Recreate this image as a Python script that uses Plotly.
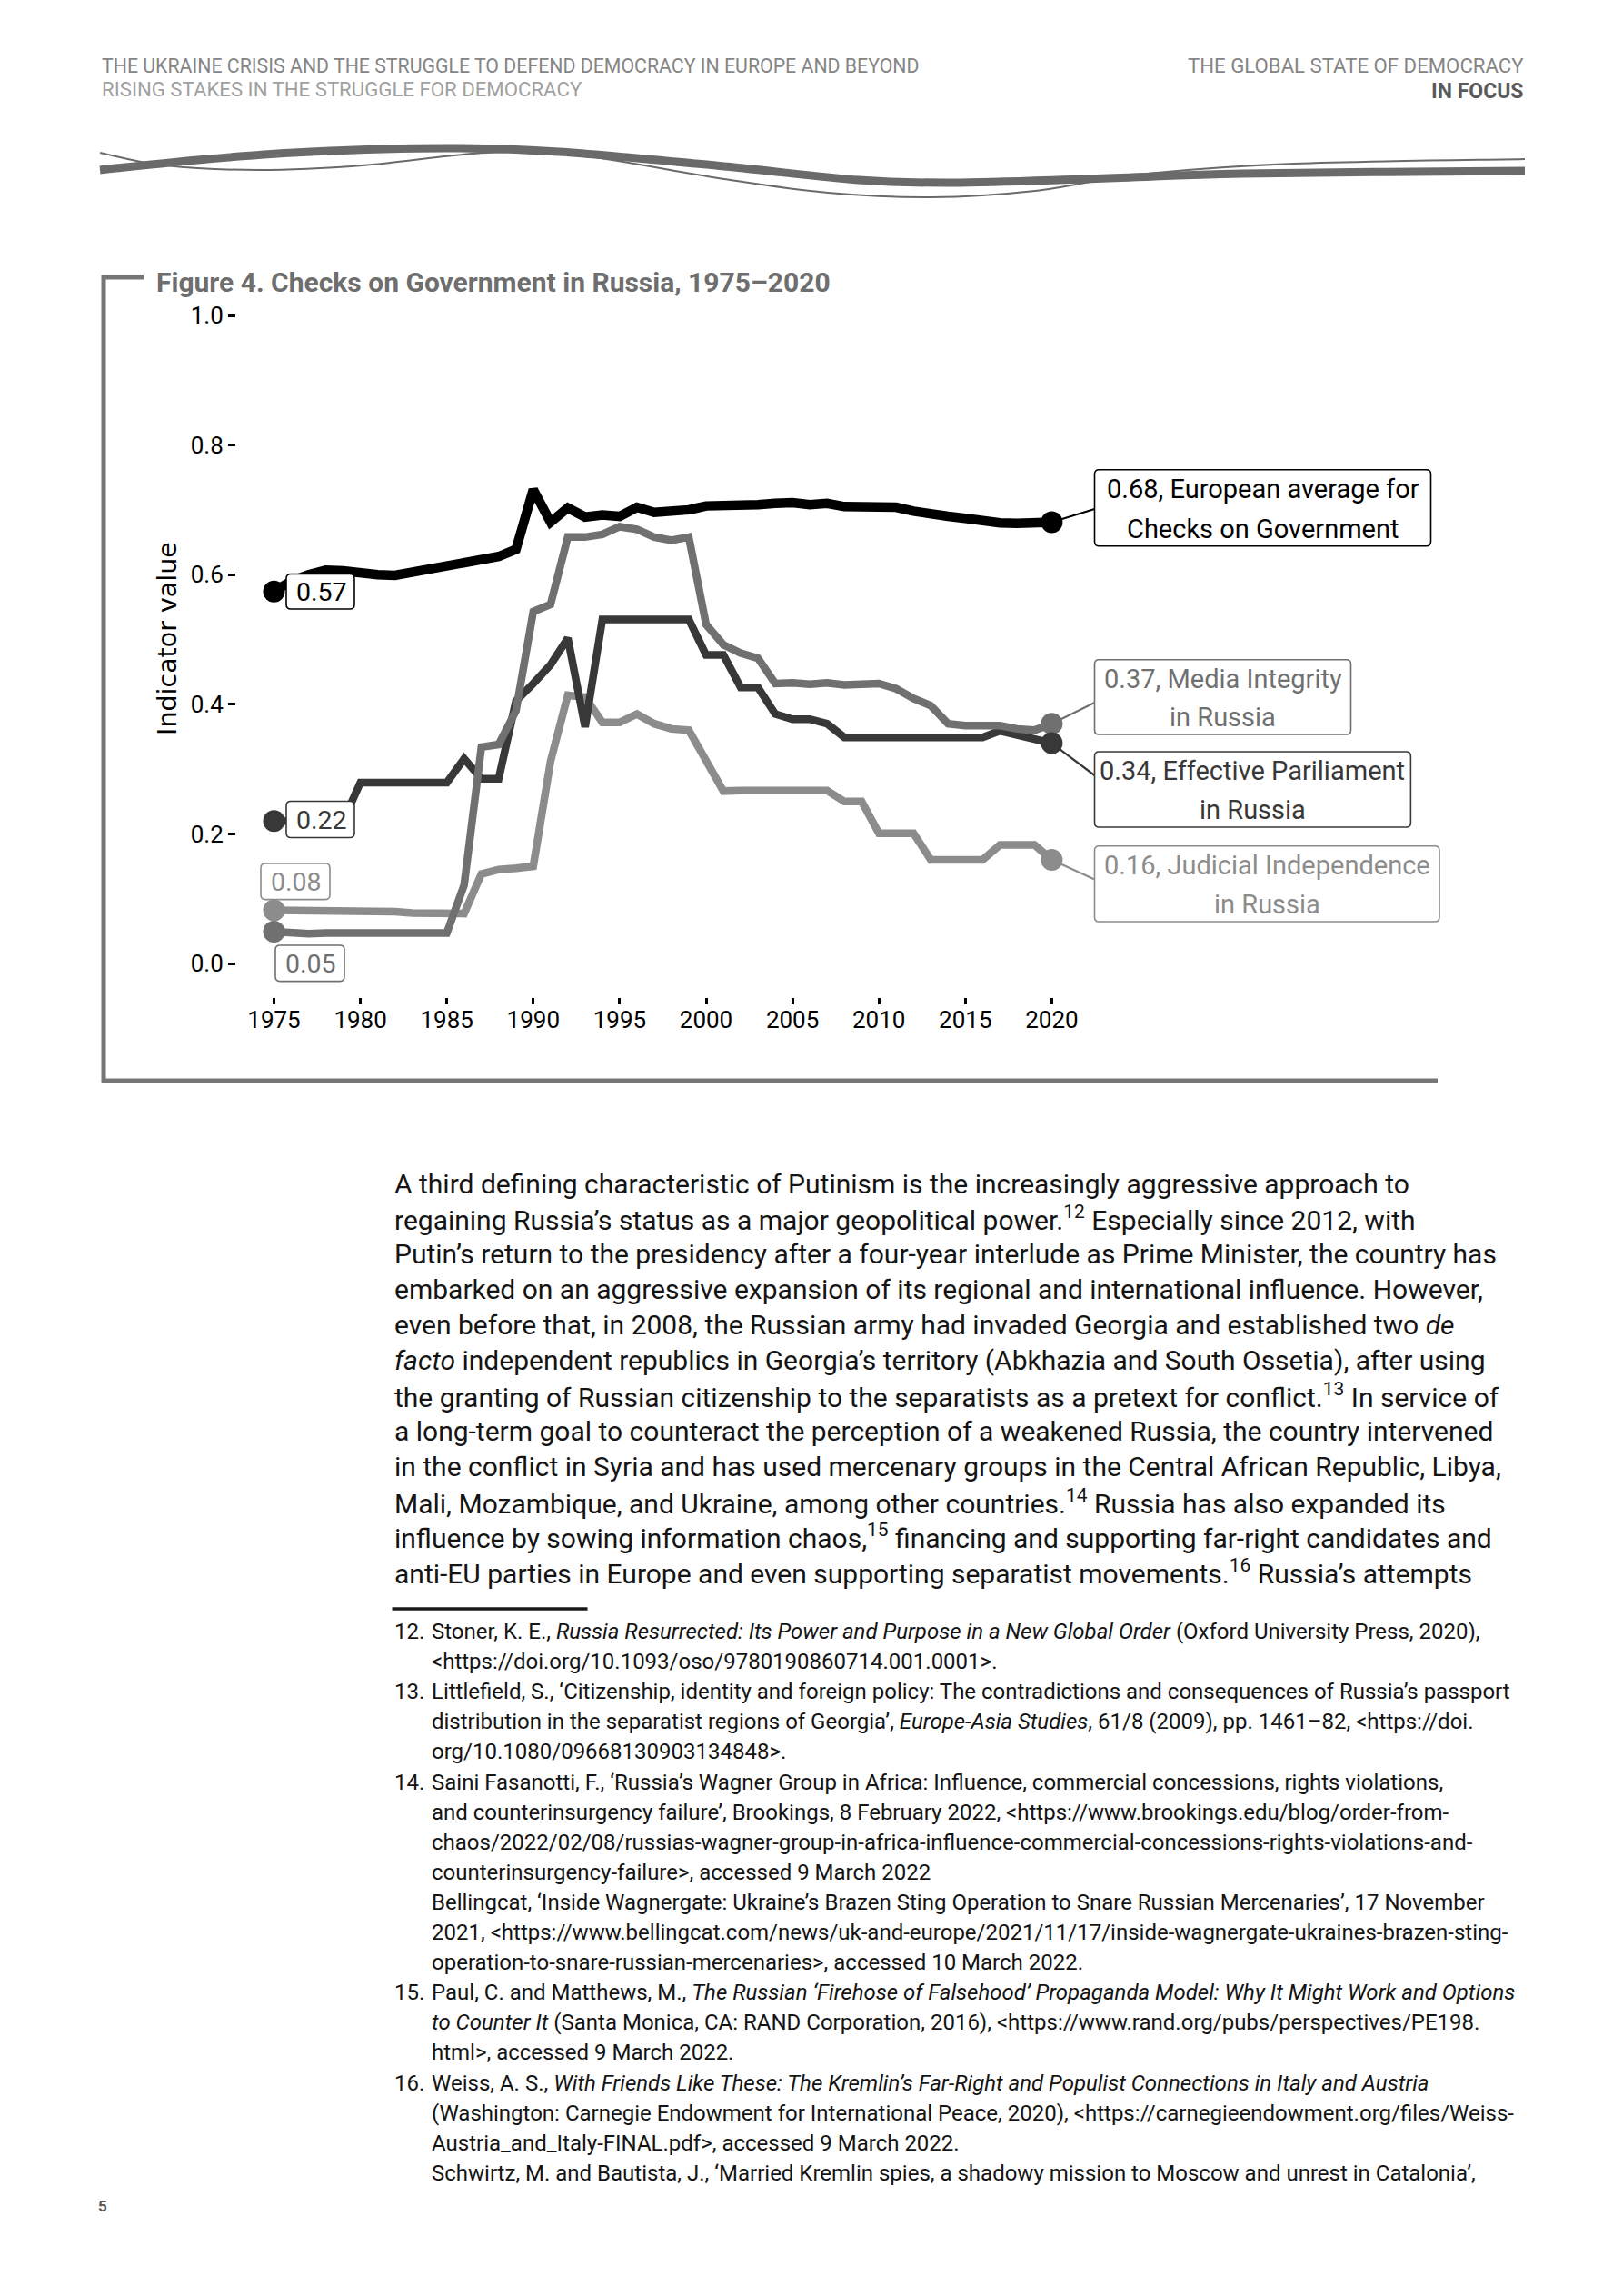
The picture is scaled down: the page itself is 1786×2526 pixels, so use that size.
import plotly.graph_objects as go

W, H = 1786, 2526
OFF = 8                      # browser body margin of the written page
WF, HF = W - OFF, H - OFF    # figure size so the page fills the window exactly


def px(x):
    return (x - OFF) / WF


def py(y):
    return 1 - (y - OFF) / HF


# ---------------- data ----------------
years = list(range(1975, 2021))

europe = [0.574, 0.590, 0.600, 0.607, 0.606, 0.602, 0.600, 0.599, 0.604, 0.611,
          0.614, 0.619, 0.623, 0.628, 0.639, 0.731, 0.681, 0.703, 0.689, 0.692,
          0.690, 0.704, 0.696, 0.697, 0.700, 0.706, 0.706, 0.707, 0.708, 0.710,
          0.711, 0.708, 0.710, 0.705, 0.705, 0.705, 0.704, 0.698, 0.693, 0.690,
          0.687, 0.683, 0.680, 0.679, 0.681, 0.681]

parliament = [0.220, 0.220, 0.220, 0.220, 0.220, 0.279, 0.279, 0.279, 0.279, 0.279,
              0.279, 0.316, 0.285, 0.285, 0.405, 0.432, 0.461, 0.502, 0.365, 0.531,
              0.531, 0.531, 0.531, 0.531, 0.531, 0.476, 0.476, 0.426, 0.426, 0.385,
              0.377, 0.377, 0.370, 0.349, 0.349, 0.349, 0.349, 0.349, 0.349, 0.349,
              0.349, 0.349, 0.359, 0.353, 0.347, 0.340]

media = [0.049, 0.047, 0.046, 0.047, 0.047, 0.047, 0.047, 0.046, 0.046, 0.046,
         0.047, 0.121, 0.334, 0.338, 0.390, 0.543, 0.554, 0.658, 0.658, 0.662,
         0.674, 0.670, 0.658, 0.653, 0.658, 0.523, 0.492, 0.479, 0.471, 0.432,
         0.433, 0.431, 0.433, 0.430, 0.430, 0.432, 0.424, 0.409, 0.398, 0.370,
         0.367, 0.366, 0.367, 0.362, 0.360, 0.370]

judicial = [0.082, 0.082, 0.082, 0.082, 0.082, 0.082, 0.081, 0.080, 0.078, 0.077,
            0.077, 0.077, 0.138, 0.145, 0.147, 0.150, 0.312, 0.414, 0.411, 0.372,
            0.372, 0.385, 0.370, 0.362, 0.360, 0.315, 0.266, 0.267, 0.267, 0.267,
            0.267, 0.267, 0.267, 0.250, 0.250, 0.201, 0.201, 0.201, 0.160, 0.160,
            0.160, 0.160, 0.183, 0.183, 0.183, 0.160]

x_ticks = [1975, 1980, 1985, 1990, 1995, 2000, 2005, 2010, 2015, 2020]
y_ticks = [0.0, 0.2, 0.4, 0.6, 0.8, 1.0]
y_tick_text = ["0.0", "0.2", "0.4", "0.6", "0.8", "1.0"]

series_names = {
    "europe": "European average for<br>Checks on Government",
    "parliament": "Effective Pariliament<br>in Russia",
    "media": "Media Integrity<br>in Russia",
    "judicial": "Judicial Independence<br>in Russia",
}

# ---------------- styles / layout constants ----------------
C_EU, C_PAR, C_MED, C_JUD = "#000000", "#383838", "#707070", "#8c8c8c"
FONT = "Roboto"

X0_PX, PX_PER_YEAR = 301.5, 19.02
Y0_PX, PX_PER_UNIT = 1060.0, 713.0
DOM_L, DOM_R, DOM_T, DOM_B = 260, 1600, 330, 1097
x_range = [1975 - (X0_PX - DOM_L) / PX_PER_YEAR, 1975 + (DOM_R - X0_PX) / PX_PER_YEAR]
y_range = [(Y0_PX - DOM_B) / PX_PER_UNIT, (Y0_PX - DOM_T) / PX_PER_UNIT]


def dx(xp):
    return 1975 + (xp - X0_PX) / PX_PER_YEAR


def dy(yp):
    return (Y0_PX - yp) / PX_PER_UNIT


fig = go.Figure()

series = [
    ("judicial", judicial, C_JUD, 8.5),
    ("parliament", parliament, C_PAR, 8.5),
    ("media", media, C_MED, 8.5),
    ("europe", europe, C_EU, 10.5),
]
for name, vals, col, w in series:
    fig.add_trace(go.Scatter(x=years, y=vals, mode="lines", name=name,
                             line=dict(color=col, width=w), hoverinfo="skip",
                             showlegend=False))
for name, vals, col, w in [series[0], series[2], series[1], series[3]]:
    fig.add_trace(go.Scatter(x=[years[0], years[-1]], y=[vals[0], vals[-1]],
                             mode="markers", marker=dict(color=col, size=24, line=dict(width=0)),
                             hoverinfo="skip", showlegend=False))

shapes = []
annotations = []


def rrect(x0, y0, x1, y1, r=5):
    return (f"M {px(x0 + r)},{py(y0)} L {px(x1 - r)},{py(y0)} "
            f"Q {px(x1)},{py(y0)} {px(x1)},{py(y0 + r)} L {px(x1)},{py(y1 - r)} "
            f"Q {px(x1)},{py(y1)} {px(x1 - r)},{py(y1)} L {px(x0 + r)},{py(y1)} "
            f"Q {px(x0)},{py(y1)} {px(x0)},{py(y1 - r)} L {px(x0)},{py(y0 + r)} "
            f"Q {px(x0)},{py(y0)} {px(x0 + r)},{py(y0)} Z")


def text(x, y, s, size, color, xanchor="left", family=FONT, textangle=0):
    annotations.append(dict(x=px(x), y=py(y), xref="paper", yref="paper", text=s,
                            showarrow=False, xanchor=xanchor, yanchor="middle",
                            textangle=textangle,
                            font=dict(family=family, size=size, color=color)))


# left start labels
left_boxes = [
    (europe, C_EU, (315, 631.5, 390, 670)),
    (parliament, C_PAR, (315, 881.5, 390, 921.5)),
    (judicial, C_JUD, (287, 950, 363, 989.6)),
    (media, C_MED, (303, 1040, 379, 1079.6)),
]
for vals, col, (x0, y0, x1, y1) in left_boxes:
    shapes.append(dict(type="path", path=rrect(x0, y0, x1, y1), xref="paper", yref="paper",
                       line=dict(color=col, width=1.6), fillcolor="white", layer="above"))
    text((x0 + x1) / 2 + 1, (y0 + y1) / 2 + 1, f"{vals[0]:.2f}", 28.5, col, xanchor="center")

# right end labels
right_boxes = [
    ("europe", europe, C_EU, (1204.5, 516.8, 1574.5, 600.7), 560),
    ("media", media, C_MED, (1204.5, 725.7, 1486.5, 807.9), 773),
    ("parliament", parliament, C_PAR, (1204.5, 827, 1552.4, 910), 853),
    ("judicial", judicial, C_JUD, (1204.5, 930.7, 1584, 1014), 967.5),
]
for name, vals, col, (x0, y0, x1, y1), yc in right_boxes:
    shapes.append(dict(type="line", xref="x", yref="y", x0=years[-1], y0=vals[-1],
                       x1=dx(x0), y1=dy(yc), line=dict(color=col, width=2.2), layer="below"))
    shapes.append(dict(type="path", path=rrect(x0, y0, x1, y1), xref="paper", yref="paper",
                       line=dict(color=col, width=1.6), fillcolor="white", layer="above"))
    l1, l2 = series_names[name].split("<br>")
    cx = (x0 + x1) / 2
    h = y1 - y0
    text(cx, y0 + 0.255 * h, f"{vals[-1]:.2f}, {l1}", 29, col, xanchor="center")
    text(cx, y0 + 0.775 * h, l2, 29, col, xanchor="center")

# frame of figure
shapes.append(dict(type="path", xref="paper", yref="paper",
                   path=f"M {px(158)},{py(305)} L {px(114)},{py(305)} L {px(114)},{py(1189)} L {px(1582)},{py(1189)}",
                   line=dict(color="#767676", width=5)))

# title and axis title
text(170, 310, "<b>Figure 4. Checks on Government in Russia, 1975–2020</b>", 30, "#6e6e6e")
text(184, 703, "Indicator value", 28.5, "#000000", xanchor="center", family="DejaVu Sans",
     textangle=-90)

# ---------------- page header ----------------
text(110, 72.5, "THE UKRAINE CRISIS AND THE STRUGGLE TO DEFEND DEMOCRACY IN EUROPE AND BEYOND", 21.3, "#858585")
text(110, 98.5, "RISING STAKES IN THE STRUGGLE FOR DEMOCRACY", 22.2, "#a0a0a0")
text(1679, 72.5, "THE GLOBAL STATE OF DEMOCRACY", 22.2, "#858585", xanchor="right")
text(1679, 100.5, "<b>IN FOCUS</b>", 23, "#5a5a5a", xanchor="right")


def smooth_path(pts):
    d = f"M {px(pts[0][0])},{py(pts[0][1])}"
    n = len(pts)
    for i in range(n - 1):
        p0 = pts[i - 1] if i > 0 else pts[i]
        p1 = pts[i]
        p2 = pts[i + 1]
        p3 = pts[i + 2] if i + 2 < n else pts[i + 1]
        c1 = (p1[0] + (p2[0] - p0[0]) / 6, p1[1] + (p2[1] - p0[1]) / 6)
        c2 = (p2[0] - (p3[0] - p1[0]) / 6, p2[1] - (p3[1] - p1[1]) / 6)
        d += (f" C {px(c1[0])},{py(c1[1])} {px(c2[0])},{py(c2[1])} "
              f"{px(p2[0])},{py(p2[1])}")
    return d


thick_wave = [(110, 187), (228, 175), (342, 167), (490, 163), (615, 167), (797, 183),
              (945, 198), (1048, 201), (1196, 197), (1367, 191), (1678, 188)]
thin_wave = [(110, 168), (182, 182), (285, 187), (399, 182), (535, 168), (638, 171),
             (797, 197), (911, 212), (1025, 217), (1139, 210), (1253, 192), (1424, 180),
             (1678, 175)]
shapes.append(dict(type="path", xref="paper", yref="paper", path=smooth_path(thick_wave),
                   line=dict(color="#6a6a6a", width=9)))
shapes.append(dict(type="path", xref="paper", yref="paper", path=smooth_path(thin_wave),
                   line=dict(color="#6a6a6a", width=2)))

# ---------------- body text ----------------
body = [
    "A third defining characteristic of Putinism is the increasingly aggressive approach to",
    "regaining Russia’s status as a major geopolitical power.<sup>12</sup> Especially since 2012, with",
    "Putin’s return to the presidency after a four-year interlude as Prime Minister, the country has",
    "embarked on an aggressive expansion of its regional and international influence. However,",
    "even before that, in 2008, the Russian army had invaded Georgia and established two <i>de</i>",
    "<i>facto</i> independent republics in Georgia’s territory (Abkhazia and South Ossetia), after using",
    "the granting of Russian citizenship to the separatists as a pretext for conflict.<sup>13</sup> In service of",
    "a long-term goal to counteract the perception of a weakened Russia, the country intervened",
    "in the conflict in Syria and has used mercenary groups in the Central African Republic, Libya,",
    "Mali, Mozambique, and Ukraine, among other countries.<sup>14</sup> Russia has also expanded its",
    "influence by sowing information chaos,<sup>15</sup> financing and supporting far-right candidates and",
    "anti-EU parties in Europe and even supporting separatist movements.<sup>16</sup> Russia’s attempts",
]
for i, line in enumerate(body):
    text(431.5, 1302 + 38.9 * i, line, 30, "#141414")

shapes.append(dict(type="line", xref="paper", yref="paper", x0=px(431.5), x1=px(646.5),
                   y0=py(1770), y1=py(1770), line=dict(color="#1a1a1a", width=3.5)))

notes = [
    ("12.", "Stoner, K. E., <i>Russia Resurrected: Its Power and Purpose in a New Global Order</i> (Oxford University Press, 2020),"),
    (None, "&lt;https://doi.org/10.1093/oso/9780190860714.001.0001&gt;."),
    ("13.", "Littlefield, S., ‘Citizenship, identity and foreign policy: The contradictions and consequences of Russia’s passport"),
    (None, "distribution in the separatist regions of Georgia’, <i>Europe-Asia Studies</i>, 61/8 (2009), pp. 1461–82, &lt;https://doi."),
    (None, "org/10.1080/09668130903134848&gt;."),
    ("14.", "Saini Fasanotti, F., ‘Russia’s Wagner Group in Africa: Influence, commercial concessions, rights violations,"),
    (None, "and counterinsurgency failure’, Brookings, 8 February 2022, &lt;https://www.brookings.edu/blog/order-from-"),
    (None, "chaos/2022/02/08/russias-wagner-group-in-africa-influence-commercial-concessions-rights-violations-and-"),
    (None, "counterinsurgency-failure&gt;, accessed 9 March 2022"),
    (None, "Bellingcat, ‘Inside Wagnergate: Ukraine’s Brazen Sting Operation to Snare Russian Mercenaries’, 17 November"),
    (None, "2021, &lt;https://www.bellingcat.com/news/uk-and-europe/2021/11/17/inside-wagnergate-ukraines-brazen-sting-"),
    (None, "operation-to-snare-russian-mercenaries&gt;, accessed 10 March 2022."),
    ("15.", "Paul, C. and Matthews, M., <i>The Russian ‘Firehose of Falsehood’ Propaganda Model: Why It Might Work and Options</i>"),
    (None, "<i>to Counter It</i> (Santa Monica, CA: RAND Corporation, 2016), &lt;https://www.rand.org/pubs/perspectives/PE198."),
    (None, "html&gt;, accessed 9 March 2022."),
    ("16.", "Weiss, A. S., <i>With Friends Like These: The Kremlin’s Far-Right and Populist Connections in Italy and Austria</i>"),
    (None, "(Washington: Carnegie Endowment for International Peace, 2020), &lt;https://carnegieendowment.org/files/Weiss-"),
    (None, "Austria_and_Italy-FINAL.pdf&gt;, accessed 9 March 2022."),
    (None, "Schwirtz, M. and Bautista, J., ‘Married Kremlin spies, a shadowy mission to Moscow and unrest in Catalonia’,"),
]
for i, (num, line) in enumerate(notes):
    y = 1795 + 33.1 * i
    if num:
        text(431.5, y, num, 24, "#141414")
    text(473.3, y, line, 24, "#141414")

text(106, 2427, "<b>5</b>", 17, "#555555")

fig.update_layout(
    width=WF, height=HF,
    margin=dict(l=0, r=0, t=0, b=0, pad=0),
    paper_bgcolor="white", plot_bgcolor="rgba(0,0,0,0)",
    shapes=shapes, annotations=annotations,
    xaxis=dict(domain=[px(DOM_L), px(DOM_R)], range=x_range, tickvals=x_ticks,
               ticks="outside", ticklen=7, tickwidth=3, tickcolor="black",
               ticklabelstandoff=-5,
               showgrid=False, zeroline=False, showline=False,
               tickfont=dict(family=FONT, size=26, color="black"), fixedrange=True),
    yaxis=dict(domain=[py(DOM_B), py(DOM_T)], range=y_range, tickvals=y_ticks,
               ticktext=y_tick_text, ticks="outside", ticklen=8, tickwidth=3,
               tickcolor="black", showgrid=False, zeroline=False, showline=False,
               tickfont=dict(family=FONT, size=26, color="black"), fixedrange=True),
)

fig.write_html("out.html")
